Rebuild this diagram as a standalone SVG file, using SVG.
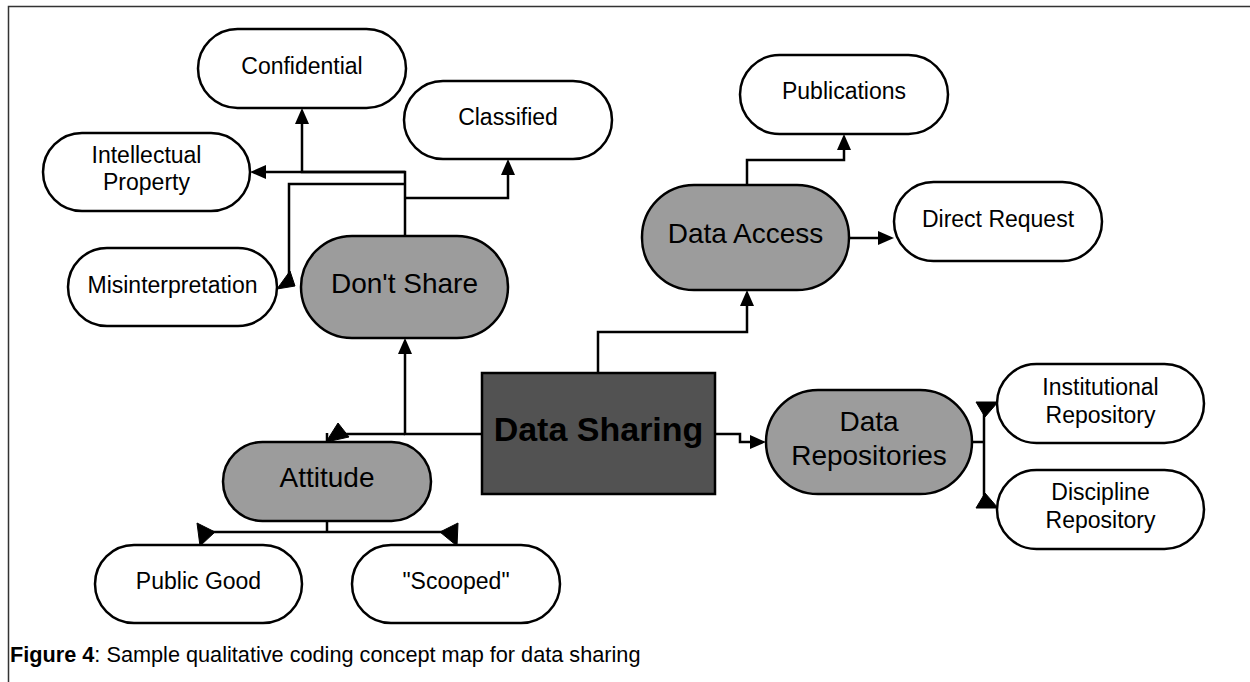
<svg xmlns="http://www.w3.org/2000/svg" width="1250" height="682" viewBox="0 0 1250 682">
<defs>
<marker id="ah" markerWidth="16" markerHeight="14" viewBox="0 0 16 14" refX="0" refY="7" orient="auto" markerUnits="userSpaceOnUse">
<path d="M0,0 L16,7 L0,14 Z" fill="#000"/>
</marker>
<style>
.leaf rect{fill:#fff;stroke:#000;stroke-width:2.5}
.mid rect{fill:#9c9c9c;stroke:#000;stroke-width:2.5}
.core rect{fill:#525252;stroke:#000;stroke-width:2.5}
text{font-family:"Liberation Sans",Arial,sans-serif;fill:#000;text-anchor:middle}
.leaf text{font-size:23px}
.mid text{font-size:28px}
.core text{font-size:34px;font-weight:bold}
.c path{fill:none;stroke:#000;stroke-width:2.5}
.c polygon{fill:#000;stroke:#000;stroke-width:1;stroke-linejoin:round}
.frame{fill:none;stroke:#333;stroke-width:1.5}
.cap{font-size:21.7px;text-anchor:start}
</style>
</defs>
<rect width="1250" height="682" fill="#fff"/>
<path class="frame" d="M8.5,682 V6.5 H1250"/>

<g class="c" id="connectors">
<path d="M405,236 V172 H266" marker-end="url(#ah)"/>
<path d="M405,172 H302 V124" marker-end="url(#ah)"/>
<path d="M405,198 H508 V175" marker-end="url(#ah)"/>
<path d="M405,184 H289 V280"/>
<polygon points="277,289 295,286 290,271"/>
<path d="M598,373 V332 H747 V306" marker-end="url(#ah)"/>
<path d="M747,185 V160 H844 V150" marker-end="url(#ah)"/>
<path d="M849,238 H878" marker-end="url(#ah)"/>
<path d="M715,434 H740 V442 H750" marker-end="url(#ah)"/>
<path d="M972,442 H984 M984,408 V506"/>
<polygon points="976,402 998,402 985,417"/>
<polygon points="976,508 985,493 998,508"/>
<path d="M482,434 H405 V354" marker-end="url(#ah)"/>
<path d="M405,434 H340 M327,433 V441"/>
<polygon points="326,442 338,423 349,437"/>
<path d="M327,521 V532 M206,532 H450"/>
<polygon points="197,523 215,532 200,546"/>
<polygon points="458,523 440,532 457,546"/>
</g>

<g id="confidential" class="leaf"><rect x="198" y="29" width="208" height="79" rx="39.5"/><text x="302" y="74">Confidential</text></g>
<g id="intellectual-property" class="leaf"><rect x="43" y="133" width="207" height="78" rx="39"/><text x="146.5" y="163">Intellectual</text><text x="146.5" y="190">Property</text></g>
<g id="misinterpretation" class="leaf"><rect x="68" y="248" width="209" height="78" rx="39"/><text x="172.5" y="293">Misinterpretation</text></g>
<g id="classified" class="leaf"><rect x="404" y="81" width="208" height="78" rx="39"/><text x="508" y="125">Classified</text></g>
<g id="dont-share" class="mid"><rect x="301" y="236" width="207" height="102" rx="51"/><text x="404.5" y="293">Don't Share</text></g>
<g id="publications" class="leaf"><rect x="740" y="55" width="208" height="79" rx="39.5"/><text x="844" y="99">Publications</text></g>
<g id="data-access" class="mid"><rect x="642" y="185" width="207" height="105" rx="52"/><text x="745.5" y="243">Data Access</text></g>
<g id="direct-request" class="leaf"><rect x="894" y="182" width="208" height="79" rx="39.5"/><text x="998" y="227">Direct Request</text></g>
<g id="data-sharing" class="core"><rect x="482" y="373" width="233" height="121"/><text x="598.5" y="441">Data Sharing</text></g>
<g id="data-repositories" class="mid"><rect x="766" y="390" width="206" height="104" rx="52"/><text x="869" y="431">Data</text><text x="869" y="465">Repositories</text></g>
<g id="institutional-repository" class="leaf"><rect x="997" y="364" width="207" height="79" rx="39.5"/><text x="1100.5" y="395">Institutional</text><text x="1100.5" y="423">Repository</text></g>
<g id="discipline-repository" class="leaf"><rect x="997" y="470" width="207" height="79" rx="39.5"/><text x="1100.5" y="500">Discipline</text><text x="1100.5" y="528">Repository</text></g>
<g id="attitude" class="mid"><rect x="223" y="442" width="208" height="79" rx="39.5"/><text x="327" y="487">Attitude</text></g>
<g id="public-good" class="leaf"><rect x="95" y="545" width="207" height="78" rx="39"/><text x="198.5" y="589">Public Good</text></g>
<g id="scooped" class="leaf"><rect x="352" y="545" width="208" height="78" rx="39"/><text x="456" y="589">"Scooped"</text></g>

<text class="cap" x="10" y="662"><tspan font-weight="bold">Figure 4</tspan>: Sample qualitative coding concept map for data sharing</text>
</svg>
